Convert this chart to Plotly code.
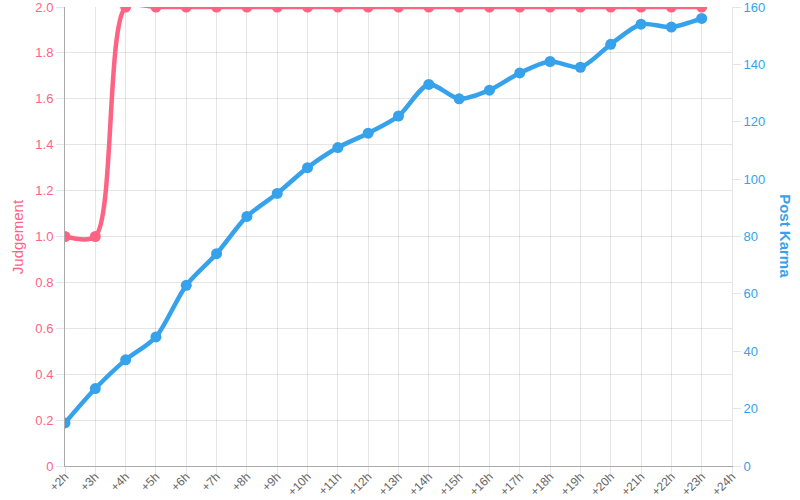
import plotly.graph_objects as go

categories = ["+%dh" % h for h in range(2, 25)]
judgement = [1, 1] + [2] * 20 + [None]
post_karma = [15, 27, 37, 45, 63, 74, 87, 95, 104, 111, 116, 122, 133, 128,
              131, 137, 141, 139, 147, 154, 153, 156, None]
left_ticks = [0, 0.2, 0.4, 0.6, 0.8, 1.0, 1.2, 1.4, 1.6, 1.8, 2.0]
left_labels = ["0", "0.2", "0.4", "0.6", "0.8", "1.0", "1.2", "1.4", "1.6", "1.8", "2.0"]
right_ticks = [0, 20, 40, 60, 80, 100, 120, 140, 160]

RED = "#ff6384"
BLUE = "#36a2eb"
GRID = "rgba(0,0,0,0.1)"
FONT = "Liberation Sans"

fig = go.Figure()
fig.add_trace(go.Scatter(
    x=categories, y=judgement, name="Judgement", yaxis="y",
    mode="lines+markers", line=dict(color=RED, width=4.5, shape="spline", smoothing=0.8),
    marker=dict(color=RED, size=11), cliponaxis=True))
fig.add_trace(go.Scatter(
    x=categories, y=post_karma, name="Post Karma", yaxis="y2",
    mode="lines+markers", line=dict(color=BLUE, width=4.5, shape="spline", smoothing=0.8),
    marker=dict(color=BLUE, size=11), cliponaxis=True))

fig.update_layout(
    width=800, height=500,
    margin=dict(l=65, r=68, t=7, b=34, autoexpand=False),
    paper_bgcolor="white", plot_bgcolor="white",
    showlegend=False,
    font=dict(family=FONT, size=12, color="#666"),
    xaxis=dict(
        type="category", range=[0, 22], showgrid=True, gridcolor=GRID,
        tickangle=-45, ticks="outside", ticklen=7, tickcolor=GRID,
        showline=True, linecolor="#aaa", linewidth=1, zeroline=False,
        tickfont=dict(size=12, color="#666"), automargin=False,
        ticklabeloverflow="allow", ticklabelstandoff=-9,
    ),
    yaxis=dict(
        range=[0, 2.0], tickvals=left_ticks, ticktext=left_labels,
        showgrid=True, gridcolor=GRID, ticks="outside", ticklen=8, tickcolor=GRID,
        showline=True, linecolor="#aaa", zeroline=False,
        tickfont=dict(size=13, color=RED), automargin=False,
        ticklabeloverflow="allow",
    ),
    yaxis2=dict(
        overlaying="y", side="right", range=[0, 160], tickvals=right_ticks,
        showgrid=False, ticks="outside", ticklen=8, tickcolor=GRID,
        showline=True, linecolor=GRID, zeroline=False,
        tickfont=dict(size=13, color=BLUE), automargin=False,
        ticklabeloverflow="allow",
    ),
    annotations=[
        dict(text="Judgement", xref="paper", yref="paper", x=-0.071, y=0.5,
             xanchor="center", yanchor="middle", textangle=-90, showarrow=False,
             font=dict(size=15, color=RED, family=FONT)),
        dict(text="<b>Post Karma</b>", xref="paper", yref="paper", x=1.08, y=0.5,
             xanchor="center", yanchor="middle", textangle=90, showarrow=False,
             font=dict(size=15, color=BLUE, family=FONT)),
    ],
)

fig.write_html("out.html", config={"displayModeBar": False},
               post_script="document.body.style.margin='0';")
